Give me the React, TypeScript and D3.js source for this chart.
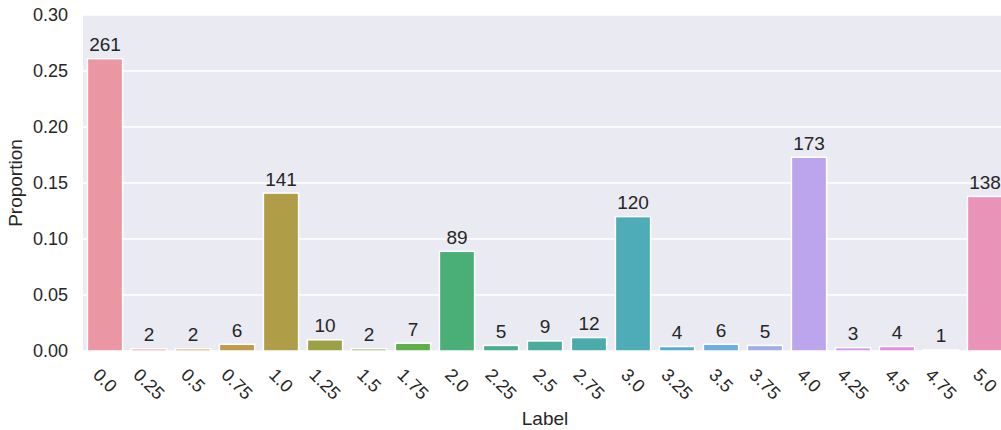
import React from "react";
import * as d3 from "d3";

const labels = ["0.0","0.25","0.5","0.75","1.0","1.25","1.5","1.75","2.0","2.25","2.5","2.75","3.0","3.25","3.5","3.75","4.0","4.25","4.5","4.75","5.0"];
const counts = [261,2,2,6,141,10,2,7,89,5,9,12,120,4,6,5,173,3,4,1,138];
const yTicks = [0, 0.05, 0.1, 0.15, 0.2, 0.25, 0.3];
const total = 1000;

// --- HUSL (seaborn's husl_palette) ---
const M = [[3.2406, -1.5372, -0.4986], [-0.9689, 1.8758, 0.0415], [0.0557, -0.2040, 1.0570]];
const refU = 0.19784, refV = 0.46834, kappa = 903.3, epsilon = 0.008856;
function maxChroma(L: number, H: number) {
  const hrad = (H / 360) * 2 * Math.PI;
  const sinH = Math.sin(hrad), cosH = Math.cos(hrad);
  const sub1 = Math.pow(L + 16, 3) / 1560896;
  const sub2 = sub1 > epsilon ? sub1 : L / kappa;
  let result = Infinity;
  for (const [m1, m2, m3] of M) {
    const top = (0.99915 * m1 + 1.05122 * m2 + 1.1446 * m3) * sub2;
    const rb = 0.8633 * m3 - 0.17266 * m2;
    const lb = 0.12949 * m3 - 0.38848 * m1;
    const bottom = (rb * sinH + lb * cosH) * sub2;
    for (const t of [0, 1]) {
      const C = (L * (top - 1.05122 * t)) / (bottom + 0.17266 * sinH * t);
      if (C > 0 && C < result) result = C;
    }
  }
  return result;
}
function fInv(t: number) { return Math.pow(t, 3) > epsilon ? Math.pow(t, 3) : (116 * t - 16) / kappa; }
function fromLinear(c: number) { return c <= 0.0031308 ? 12.92 * c : 1.055 * Math.pow(c, 1 / 2.4) - 0.055; }
function huslToRgb(h: number, s: number, l: number) {
  const C = (maxChroma(l, h) / 100) * s;
  const hrad = (h / 360) * 2 * Math.PI;
  const U = Math.cos(hrad) * C, V = Math.sin(hrad) * C;
  const Y = fInv((l + 16) / 116);
  const vU = U / (13 * l) + refU, vV = V / (13 * l) + refV;
  const X = 0 - (9 * Y * vU) / ((vU - 4) * vV - vU * vV);
  const Z = (9 * Y - 15 * vV * Y - vV * X) / (3 * vV);
  const xyz = [X, Y, Z];
  return M.map((row) => Math.min(1, Math.max(0, fromLinear(row[0] * xyz[0] + row[1] * xyz[1] + row[2] * xyz[2]))));
}
function palette(n: number) {
  const out: string[] = [];
  for (let i = 0; i < n; i++) {
    const h = (((i / n) + 0.01) % 1) * 359;
    const [r, g, b] = huslToRgb(h, 0.9 * 99, 0.7 * 99);
    const c = d3.hsl(d3.rgb(r * 255, g * 255, b * 255));
    c.s *= 0.75;
    out.push(c.formatHex());
  }
  return out;
}
const colors = palette(labels.length);

const W = 1001, H = 430;
const left = 83, right = 1007, top = 15, bottom = 351;
const font = "'Liberation Sans', Arial, sans-serif";
const ink = "#262626";

function charW(s: string) {
  let w = 0;
  for (const ch of s) w += ch === "." ? 0.278 : 0.556;
  return w;
}

export default function App() {
  const x = d3.scaleBand<string>().domain(labels).range([left, right]).paddingInner(0.2).paddingOuter(0.1);
  const y = d3.scaleLinear().domain([0, 0.3]).range([bottom, top]);
  const tickFs = 18;
  return (
    <svg width={W} height={H} style={{ position: "absolute", left: 0, top: 0, overflow: "hidden", background: "#fff" }}>
      <rect x={left} y={top} width={right - left} height={bottom - top} fill="#EAEAF2" />
      {yTicks.map((t) => (
        <line key={"g" + t} x1={left} x2={right} y1={y(t)} y2={y(t)} stroke="#fff" strokeWidth={1.5} />
      ))}
      {labels.map((lab, i) => {
        const v = counts[i] / total;
        const bx = x(lab)!;
        return (
          <g key={lab}>
            <rect x={bx} y={y(v)} width={x.bandwidth()} height={bottom - y(v)} fill={colors[i]} stroke="#fff" strokeWidth={1.5} />
            <text x={bx + x.bandwidth() / 2} y={y(v) - 7.5} textAnchor="middle" fontSize={19} fontFamily={font} fill={ink}>
              {counts[i]}
            </text>
          </g>
        );
      })}
      {yTicks.map((t) => (
        <text key={"t" + t} x={68} y={y(t)} textAnchor="end" dominantBaseline="central" fontSize={tickFs} fontFamily={font} fill={ink}>
          {t.toFixed(2)}
        </text>
      ))}
      {labels.map((lab) => {
        const cx = x(lab)! + x.bandwidth() / 2;
        const w = charW(lab) * tickFs;
        const h = 19;
        const cy = 365 + (w + h) / (2 * Math.SQRT2);
        return (
          <text key={"x" + lab} x={cx} y={cy} textAnchor="middle" dominantBaseline="central" fontSize={tickFs} fontFamily={font} fill={ink} transform={`rotate(45 ${cx} ${cy})`}>
            {lab}
          </text>
        );
      })}
      <text x={(left + right) / 2} y={425} textAnchor="middle" fontSize={19} fontFamily={font} fill={ink}>Label</text>
      <text x={22} y={(top + bottom) / 2} textAnchor="middle" fontSize={19} fontFamily={font} fill={ink} transform={`rotate(-90 22 ${(top + bottom) / 2})`}>Proportion</text>
    </svg>
  );
}
